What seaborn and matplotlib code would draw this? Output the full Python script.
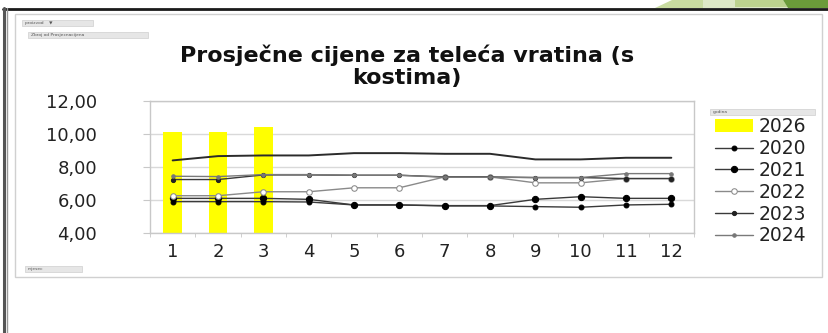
import numpy as np
import pandas as pd
import seaborn as sns
import matplotlib.pyplot as plt
from matplotlib.patches import Rectangle, Polygon
from matplotlib.lines import Line2D
from matplotlib.ticker import FuncFormatter, MultipleLocator

# Data (prices per month)
months = [1, 2, 3, 4, 5, 6, 7, 8, 9, 10, 11, 12]
bar_months = [1, 2, 3]
y2026 = [10.15, 10.15, 10.45]
y2020 = [5.90, 5.90, 5.90, 5.88, 5.70, 5.70, 5.64, 5.64, 5.60, 5.56, 5.70, 5.74]
y2021 = [6.10, 6.10, 6.10, 6.04, 5.70, 5.70, 5.66, 5.66, 6.04, 6.20, 6.10, 6.10]
y2022 = [6.26, 6.26, 6.50, 6.50, 6.74, 6.74, 7.40, 7.40, 7.04, 7.04, 7.30, 7.30]
y2023 = [7.24, 7.24, 7.52, 7.52, 7.50, 7.50, 7.40, 7.40, 7.36, 7.36, 7.30, 7.30]
y2024 = [7.44, 7.42, 7.54, 7.54, 7.50, 7.50, 7.38, 7.38, 7.36, 7.36, 7.60, 7.60]
y2025 = [8.40, 8.66, 8.70, 8.70, 8.84, 8.84, 8.80, 8.80, 8.46, 8.46, 8.56, 8.56]

title = 'Prosječne cijene za teleća vratina (s\nkostima)'

W, H = 829, 333
fig = plt.figure(figsize=(W / 100, H / 100), dpi=100, facecolor='white')
sns.set_style('white')
plt.rcParams['font.family'] = ['DejaVu Sans']


def fx(px):
    return px / W


def fy(py):
    return 1 - py / H


# slide decoration
fig.add_artist(Line2D([fx(3), fx(829)], [fy(8.5), fy(8.5)], color='#1a1a1a', lw=2))
fig.add_artist(Line2D([fx(4), fx(4)], [fy(8), fy(333)], color='#555555', lw=2.2))
fig.add_artist(Line2D([fx(7.5), fx(7.5)], [fy(8), fy(333)], color='#999999', lw=1))
greens = [
    ([(672, 0), (703, 0), (703, 7.5), (655, 7.5)], '#c8dba0'),
    ([(703, 0), (735, 0), (735, 7.5), (703, 7.5)], '#dde8c6'),
    ([(735, 0), (783, 0), (788, 7.5), (735, 7.5)], '#bcd28e'),
    ([(783, 0), (829, 0), (829, 7.5), (788, 7.5)], '#6b9b3a'),
]
for pts, c in greens:
    fig.add_artist(Polygon([(fx(a), fy(b)) for a, b in pts], closed=True,
                           facecolor=c, edgecolor='none', transform=fig.transFigure))

# chart area box
fig.add_artist(Rectangle((fx(15), fy(277)), fx(822) - fx(15), fy(14) - fy(277),
                         transform=fig.transFigure, facecolor='none',
                         edgecolor='#d0d0d0', lw=1))

# pivot field buttons
buttons = [(22, 20, 71, 6, 'proizvod    ▼'), (28, 32, 120, 6, 'Zbroj od Prosjecnacijena'),
           (25, 266, 57, 6, 'mjesec'), (710, 109, 105, 6, 'godina')]
for bx, by, bw, bh, txt in buttons:
    fig.add_artist(Rectangle((fx(bx), fy(by + bh)), bw / W, bh / H, transform=fig.transFigure,
                             facecolor='#e6e6e6', edgecolor='#cfcfcf', lw=0.5))
    fig.text(fx(bx + 3), fy(by + bh / 2), txt, fontsize=3.2, color='#555555',
             va='center', ha='left')

# plot area
ax = fig.add_axes([fx(150), fy(233), fx(694) - fx(150), fy(101) - fy(233)])

sns.barplot(x=bar_months, y=y2026, native_scale=True, width=0.41, color='#ffff00',
            saturation=1, edgecolor='none', label='2026', ax=ax, zorder=2)

line_styles = [
    ('2020', y2020, dict(color='#3a3a3a', lw=1.0, marker='o', ms=3.5, mfc='black', mec='black')),
    ('2021', y2021, dict(color='#3a3a3a', lw=1.0, marker='o', ms=4.5, mfc='black', mec='black')),
    ('2022', y2022, dict(color='#8a8a8a', lw=1.0, marker='o', ms=4, mfc='white', mec='#8a8a8a')),
    ('2023', y2023, dict(color='#3a3a3a', lw=1.0, marker='o', ms=3, mfc='#222222', mec='#222222')),
    ('2024', y2024, dict(color='#7a7a7a', lw=1.0, marker='o', ms=2.5, mfc='#777777', mec='#777777')),
]
for name, vals, st in line_styles:
    sns.lineplot(x=months, y=vals, label=name, ax=ax, zorder=3, **st)
sns.lineplot(x=months, y=y2025, color='#2b2b2b', lw=1.4, label='_2025', ax=ax, zorder=3)

ax.set_xlim(0.5, 12.5)
ax.set_ylim(4, 12)
ax.set_xticks(months)
ax.set_xticklabels([str(m) for m in months])
ax.xaxis.set_minor_locator(MultipleLocator(1, offset=0.5))
ax.yaxis.set_major_locator(MultipleLocator(2))
ax.yaxis.set_major_formatter(FuncFormatter(lambda v, p: f'{v:.2f}'.replace('.', ',')))
ax.set_xlabel('')
ax.set_ylabel('')
ax.grid(axis='y', color='#d9d9d9', lw=1, zorder=0)
ax.set_axisbelow(True)
for s in ax.spines.values():
    s.set_color('#c8c8c8')
    s.set_linewidth(1)
ax.tick_params(axis='x', which='major', length=0, pad=7, labelsize=13, labelcolor='#222222')
ax.tick_params(axis='x', which='minor', bottom=True, length=3, color='#c8c8c8')
ax.tick_params(axis='y', which='major', left=True, length=5, color='#c8c8c8', pad=33,
               labelsize=13, labelcolor='#222222')

handles, labels = ax.get_legend_handles_labels()
keep = [(h, l) for h, l in zip(handles, labels) if not l.startswith('_')]
order = ['2026', '2020', '2021', '2022', '2023', '2024']
keep.sort(key=lambda t: order.index(t[1]))
ax.legend([h for h, _ in keep], [l for _, l in keep], loc='upper left',
          bbox_to_anchor=(fx(706), fy(108)), bbox_transform=fig.transFigure,
          frameon=False, fontsize=13.5, handlelength=2.0, handletextpad=0.3,
          labelspacing=0.15, borderpad=0, labelcolor='#222222')

fig.text(fx(407), fy(66), title, ha='center', va='center', fontsize=16,
         fontweight='bold', color='#111111', linespacing=1.12)

fig.savefig('out.png', dpi=100)
